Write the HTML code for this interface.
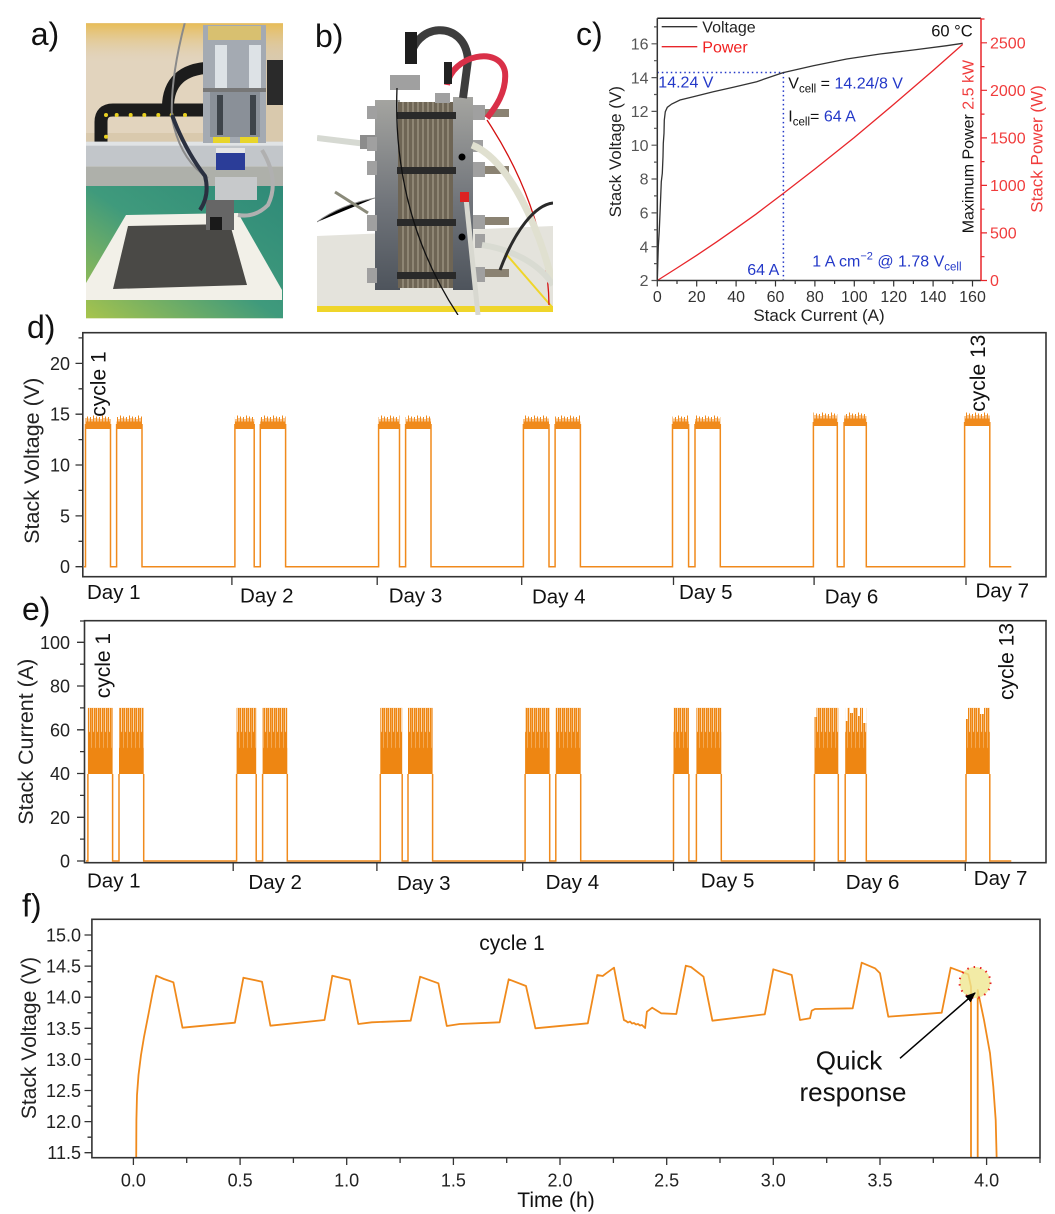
<!DOCTYPE html>
<html><head><meta charset="utf-8"><style>
html,body{margin:0;padding:0;background:#fff;}
svg{display:block;}
</style></head><body>
<svg width="1055" height="1214" viewBox="0 0 1055 1214" xmlns="http://www.w3.org/2000/svg" font-family="'Liberation Sans', Arial, sans-serif">
<defs>
<pattern id="dn" x="0" y="415" width="9" height="14" patternUnits="userSpaceOnUse">
<rect x="0" y="6.5" width="9" height="7.5" fill="#f08a1c"/>
<path d="M0.5,2V14 M2,4V14 M3.5,0.5V14 M5,3V14 M6.5,1.5V14 M8,3.5V14" stroke="#f08a1c" stroke-width="1"/>
</pattern>
<pattern id="dn2" x="0" y="412" width="9" height="14" patternUnits="userSpaceOnUse">
<rect x="0" y="6.5" width="9" height="7.5" fill="#f08a1c"/>
<path d="M0.5,2V14 M2,4V14 M3.5,0.5V14 M5,3V14 M6.5,1.5V14 M8,3.5V14" stroke="#f08a1c" stroke-width="1"/>
</pattern>
<pattern id="en" x="0" y="707.9" width="4" height="66.1" patternUnits="userSpaceOnUse">
<rect width="4" height="66.1" fill="#ee8612"/>
<rect x="1.2" y="0" width="0.8" height="24" fill="#fff" opacity="0.8"/>
<rect x="3.1" y="0" width="0.5" height="40" fill="#fff" opacity="0.55"/>
</pattern>
<linearGradient id="gA" x1="0" y1="1" x2="1" y2="0">
<stop offset="0" stop-color="#a8c44c"/><stop offset="0.5" stop-color="#3f9a7c"/><stop offset="1" stop-color="#2f8a78"/>
</linearGradient>
<linearGradient id="gB" x1="0" y1="0" x2="0" y2="1">
<stop offset="0" stop-color="#a4a4a0"/><stop offset="0.55" stop-color="#70747a"/><stop offset="1" stop-color="#4e545c"/>
</linearGradient>
<linearGradient id="gTop" x1="0" y1="0" x2="0" y2="1">
<stop offset="0" stop-color="#e8bc55"/><stop offset="1" stop-color="#e0cfb2" stop-opacity="0"/>
</linearGradient>
<clipPath id="clipA"><rect x="86" y="23.3" width="197" height="295"/></clipPath>
<clipPath id="clipB"><rect x="317" y="20" width="236" height="295"/></clipPath>
<clipPath id="clipF"><rect x="91.9" y="919.3" width="948.1" height="238.4"/></clipPath>
<marker id="arr" viewBox="0 0 10 10" refX="9" refY="5" markerWidth="7" markerHeight="7" orient="auto">
<path d="M0,1 L10,5 L0,9 z" fill="#000"/>
</marker>
</defs>
<rect width="1055" height="1214" fill="#fff"/>

<!-- ===== Panel labels ===== -->
<g font-size="32" fill="#111">
<text x="30.7" y="45">a)</text>
<text x="315" y="47">b)</text>
<text x="576" y="45">c)</text>
<text x="27" y="338">d)</text>
<text x="22" y="620">e)</text>
<text x="22" y="916.7">f)</text>
</g>

<!-- ===== Photo a ===== -->
<g clip-path="url(#clipA)">
<rect x="86" y="23" width="197" height="296" fill="#d9c9ad"/>
<rect x="86" y="23" width="120" height="110" fill="#e2d4be"/>
<rect x="86" y="23" width="197" height="40" fill="url(#gTop)"/>
<path d="M101,142 V122 Q101,110 113,110 H205" stroke="#1c1c1c" stroke-width="13" fill="none"/>
<path d="M168,112 Q166,72 205,68" stroke="#1c1c1c" stroke-width="12" fill="none"/>
<g fill="#e8d020">
<circle cx="106" cy="115" r="2"/><circle cx="116.7" cy="115" r="2"/><circle cx="130.7" cy="115" r="2"/><circle cx="144.3" cy="115" r="2"/><circle cx="158.3" cy="115" r="2"/><circle cx="171.7" cy="115" r="2"/><circle cx="185" cy="115" r="2"/><circle cx="106" cy="136.7" r="2"/>
</g>
<rect x="86" y="141.7" width="197" height="25" fill="#c2c6ca"/>
<rect x="86" y="141.7" width="197" height="4" fill="#e0e3e5"/>
<rect x="86" y="166.7" width="197" height="20" fill="#aeb0aa"/>
<rect x="86" y="186" width="197" height="133" fill="url(#gA)"/>
<polygon points="126,215 238,213 282,290 282,300 86,300 86,283" fill="#f2f0e8"/>
<polygon points="128,226 230,224 247,285 113,289" fill="#4a4946"/>
<rect x="203" y="25" width="63" height="118" fill="#a4aab2"/>
<rect x="208" y="26" width="53" height="14" fill="#d8c070"/>
<rect x="215" y="45" width="12" height="45" fill="#dde2e6"/>
<rect x="249" y="45" width="12" height="45" fill="#dde2e6"/>
<rect x="203" y="88" width="63" height="4" fill="#777"/>
<rect x="210" y="92" width="50" height="45" fill="#8a9098"/>
<rect x="217" y="95" width="6" height="40" fill="#3e444a"/>
<rect x="250" y="95" width="6" height="40" fill="#3e444a"/>
<rect x="213" y="137" width="17" height="6" fill="#e8d52a"/>
<rect x="240" y="137" width="18" height="6" fill="#e8d52a"/>
<rect x="216" y="148" width="29" height="5" fill="#e6e6e6"/>
<rect x="216" y="153" width="29" height="17" fill="#2b3d98"/>
<rect x="215" y="177" width="42" height="23" fill="#c7c9cb"/>
<rect x="206" y="200" width="28" height="30" fill="#666"/>
<rect x="210" y="217" width="12" height="13" fill="#1a1a1a"/>
<rect x="267" y="60" width="16" height="45" fill="#2a2a2a"/>
<path d="M185,22 Q170,80 172,118 Q180,160 208,178" stroke="#8a8a8a" stroke-width="2" fill="none"/>
<path d="M172,115 Q185,150 205,176 Q210,195 200,210" stroke="#2a3040" stroke-width="4" fill="none"/>
<path d="M262,150 Q280,180 268,205 Q255,218 238,215" stroke="#b0b0b0" stroke-width="4" fill="none"/>
</g>

<!-- ===== Photo b ===== -->
<g clip-path="url(#clipB)">
<polygon points="317,236 553,226 553,306 317,306" fill="#e4e3dc"/>
<rect x="317" y="306" width="236" height="6" fill="#efd52a"/>
<path d="M500,247 L552,307" stroke="#efd52a" stroke-width="2"/>
<path d="M317,138 L375,145" stroke="#d6d9d2" stroke-width="6"/>
<path d="M317,222 Q340,205 375,198" stroke="#888" stroke-width="1"/>
<path d="M335,192 L368,213" stroke="#8a8a7a" stroke-width="3"/>
<rect x="360" y="135" width="16" height="14" fill="#8c8c8c"/>
<rect x="375" y="100" width="25" height="190" fill="url(#gB)"/>
<rect x="398" y="102" width="57" height="186" fill="#6e6555"/>
<path d="M403,102V288 M408,102V288 M413,102V288 M418,102V288 M423,102V288 M428,102V288 M433,102V288 M438,102V288 M443,102V288 M448,102V288" stroke="#a39b88" stroke-width="1.2"/>
<rect x="453" y="97" width="20" height="193" fill="url(#gB)"/>
<g fill="#2a2a2a">
<rect x="397" y="112" width="59" height="7"/><rect x="397" y="167" width="59" height="7"/><rect x="397" y="219" width="59" height="7"/><rect x="397" y="272" width="59" height="7"/>
</g>
<g fill="#a0a0a0">
<rect x="367" y="106" width="10" height="13"/><rect x="367" y="137" width="10" height="14"/><rect x="367" y="161" width="10" height="14"/><rect x="367" y="215" width="10" height="16"/><rect x="367" y="268" width="10" height="15"/>
<rect x="473" y="105" width="12" height="15"/><rect x="473" y="140" width="10" height="12"/><rect x="473" y="162" width="12" height="15"/><rect x="473" y="215" width="12" height="14"/><rect x="475" y="234" width="10" height="14"/><rect x="473" y="267" width="12" height="15"/>
<rect x="390" y="75" width="30" height="15"/><rect x="435" y="93" width="15" height="10"/>
</g>
<g fill="#8a8272">
<rect x="485" y="109" width="24" height="8"/><rect x="485" y="166" width="24" height="8"/><rect x="485" y="217" width="24" height="8"/><rect x="485" y="269" width="24" height="8"/>
</g>
<circle cx="462" cy="157" r="3.5" fill="#000"/>
<circle cx="462" cy="237" r="3.5" fill="#000"/>
<path d="M410,62 C412,22 465,18 468,60 L463,98" stroke="#3d3d3d" stroke-width="8" fill="none"/>
<rect x="405" y="32" width="12" height="32" fill="#1e1e1e"/>
<path d="M447,85 C452,55 500,45 505,72 C507,92 495,108 487,118" stroke="#d93048" stroke-width="6" fill="none"/>
<rect x="444" y="62" width="8" height="22" fill="#222"/>
<path d="M397,88 C393,190 425,265 458,315" stroke="#111" stroke-width="1.3" fill="none"/>
<path d="M487,120 C520,170 548,235 549,305" stroke="#d41010" stroke-width="1.3" fill="none"/>
<path d="M466,198 L478,315" stroke="#d8d8d0" stroke-width="5"/>
<rect x="460" y="192" width="9" height="10" fill="#d22"/>
<path d="M472,145 C510,160 540,230 553,285" stroke="#e0e0d0" stroke-width="7" fill="none"/>
<path d="M482,245 C515,250 540,265 553,285" stroke="#d9dbd2" stroke-width="6" fill="none"/>
<path d="M500,270 C515,230 535,205 553,203" stroke="#2a2a2a" stroke-width="3" fill="none"/>
</g>

<!-- ===== Panel c ===== -->
<g>
<!-- dotted guides -->
<path d="M657.3,72.5 H783.4 V280.5" stroke="#2338c8" stroke-width="1.5" stroke-dasharray="1.5 3" fill="none"/>
<!-- power curve -->
<polyline fill="none" stroke="#e8262b" stroke-width="1.3" points="657.3,280.5 677,268 696.7,255.3 716.4,242.1 736.1,228.3 755.8,214.3 783.4,193.4 814.9,169 854.3,137.5 893.7,104.4 933.1,70.5 962.7,44.4"/>
<!-- voltage curve -->
<polyline fill="none" stroke="#333" stroke-width="1.3" points="657.3,280 657.7,266.7 658.3,246.7 659.3,230 660,213.3 660.7,196.7 661.3,181.7 662.3,173.3 663,156.7 663.3,143.3 664,133.3 664.3,120 665.3,111.7 667.3,107.3 671.7,104 680,100 693.3,96.7 713.3,91.7 733.3,87.3 756.7,81.7 782.7,72.7 813.3,65.7 846.7,59 880,54 913.3,50 946.7,45.7 962.7,43.3"/>
<!-- frame -->
<path d="M657.3,18.3 H981" stroke="#222" stroke-width="1.5"/>
<path d="M657.3,18.3 V280.5 H981" stroke="#333" stroke-width="1.5" fill="none"/>
<path d="M981,18.3 V280.5" stroke="#e8262b" stroke-width="1.5"/>
<!-- left ticks -->
<path d="M651.5,280.5H657.3 M651.5,246.7H657.3 M651.5,212.9H657.3 M651.5,179H657.3 M651.5,145.2H657.3 M651.5,111.4H657.3 M651.5,77.6H657.3 M651.5,43.8H657.3 M654,263.6H657.3 M654,229.8H657.3 M654,195.9H657.3 M654,162.1H657.3 M654,128.3H657.3 M654,94.5H657.3 M654,60.7H657.3 M654,26.9H657.3" stroke="#555" stroke-width="1.2"/>
<!-- bottom ticks -->
<path d="M657.3,280.5V286.5 M696.7,280.5V286.5 M736.1,280.5V286.5 M775.5,280.5V286.5 M814.9,280.5V286.5 M854.3,280.5V286.5 M893.7,280.5V286.5 M933.1,280.5V286.5 M972.5,280.5V286.5 M677,280.5V284 M716.4,280.5V284 M755.8,280.5V284 M795.2,280.5V284 M834.6,280.5V284 M874,280.5V284 M913.4,280.5V284 M952.8,280.5V284" stroke="#333" stroke-width="1.2"/>
<!-- right ticks -->
<path d="M981,280.5H987 M981,232.9H987 M981,185.4H987 M981,137.9H987 M981,90.3H987 M981,42.8H987 M981,256.7H984.5 M981,209.2H984.5 M981,161.6H984.5 M981,114.1H984.5 M981,66.6H984.5 M981,19H984.5" stroke="#e8262b" stroke-width="1.2"/>
<g font-size="16" fill="#555" text-anchor="end">
<text x="648.5" y="286.2">2</text><text x="648.5" y="252.4">4</text><text x="648.5" y="218.6">6</text><text x="648.5" y="184.7">8</text><text x="648.5" y="150.9">10</text><text x="648.5" y="117.1">12</text><text x="648.5" y="83.3">14</text><text x="648.5" y="49.5">16</text>
</g>
<g font-size="16" fill="#333" text-anchor="middle">
<text x="657.3" y="301.8">0</text><text x="696.7" y="301.8">20</text><text x="736.1" y="301.8">40</text><text x="775.5" y="301.8">60</text><text x="814.9" y="301.8">80</text><text x="854.3" y="301.8">100</text><text x="893.7" y="301.8">120</text><text x="933.1" y="301.8">140</text><text x="972.5" y="301.8">160</text>
</g>
<g font-size="16" fill="#f03c3c">
<text x="990" y="286.2">0</text><text x="990" y="238.6">500</text><text x="990" y="191.1">1000</text><text x="990" y="143.6">1500</text><text x="990" y="96">2000</text><text x="990" y="48.5">2500</text>
</g>
<text x="819" y="320.8" font-size="17" fill="#222" text-anchor="middle">Stack Current (A)</text>
<text transform="translate(620.8,151.7) rotate(-90)" font-size="17" fill="#222" text-anchor="middle">Stack Voltage (V)</text>
<text transform="translate(973.4,233.3) rotate(-90)" font-size="16" fill="#111">Maximum Power <tspan fill="#f03c3c">2.5 kW</tspan></text>
<text transform="translate(1042.5,149) rotate(-90)" font-size="17" fill="#f03c3c" text-anchor="middle">Stack Power (W)</text>
<!-- legend -->
<path d="M661.7,26.7 H697.3" stroke="#333" stroke-width="1.3"/>
<text x="702.3" y="32.3" font-size="16" fill="#222">Voltage</text>
<path d="M661.7,46.7 H697.3" stroke="#e8262b" stroke-width="1.3"/>
<text x="702.3" y="52.3" font-size="16" fill="#f02020">Power</text>
<text x="972.7" y="36.7" font-size="16.5" fill="#111" text-anchor="end">60 °C</text>
<text x="658.3" y="87.7" font-size="16" fill="#2338c8">14.24 V</text>
<text x="788.3" y="88.3" font-size="16" fill="#111">V<tspan font-size="11.5" dy="4">cell</tspan><tspan dy="-4"> = </tspan><tspan fill="#2338c8">14.24/8 V</tspan></text>
<text x="788.3" y="121.7" font-size="16" fill="#111">I<tspan font-size="11.5" dy="4">cell</tspan><tspan dy="-4">= </tspan><tspan fill="#2338c8">64 A</tspan></text>
<text x="779.3" y="275" font-size="16" fill="#2338c8" text-anchor="end">64 A</text>
<text x="812.3" y="266.7" font-size="16" fill="#2338c8">1 A cm<tspan font-size="11" dy="-7">−2</tspan><tspan dy="7"> @ 1.78 V</tspan><tspan font-size="11.5" dy="4">cell</tspan></text>
</g>

<!-- ===== Panel d ===== -->
<g>
<g>
<rect x="85.5" y="415" width="25" height="14" fill="url(#dn)"/>
<rect x="116.6" y="415" width="25.4" height="14" fill="url(#dn)"/>
<rect x="234.9" y="415" width="19.3" height="14" fill="url(#dn)"/>
<rect x="260.3" y="415" width="25.3" height="14" fill="url(#dn)"/>
<rect x="378.6" y="415" width="20.9" height="14" fill="url(#dn)"/>
<rect x="405.6" y="415" width="25.4" height="14" fill="url(#dn)"/>
<rect x="523.4" y="415" width="25.6" height="14" fill="url(#dn)"/>
<rect x="555.1" y="415" width="25.3" height="14" fill="url(#dn)"/>
<rect x="672.5" y="415" width="16.1" height="14" fill="url(#dn)"/>
<rect x="695" y="415" width="25.3" height="14" fill="url(#dn)"/>
<rect x="813.4" y="412" width="23.9" height="14" fill="url(#dn2)"/>
<rect x="844.1" y="412" width="22.2" height="14" fill="url(#dn2)"/>
<rect x="964.6" y="412" width="25.2" height="14" fill="url(#dn2)"/>
</g>
<path fill="none" stroke="#f08a1c" stroke-width="1.5" d="M84,566.7 H85.5 V424 M110.5,424 V566.7 H116.6 V424 M142,424 V566.7 H234.9 V424 M254.2,424 V566.7 H260.3 V424 M285.6,424 V566.7 H378.6 V424 M399.5,424 V566.7 H405.6 V424 M431,424 V566.7 H523.4 V424 M549,424 V566.7 H555.1 V424 M580.4,424 V566.7 H672.5 V424 M688.6,424 V566.7 H695 V424 M720.3,424 V566.7 H813.4 V422 M837.3,422 V566.7 H844.1 V422 M866.3,422 V566.7 H964.6 V422 M989.8,422 V566.7 H1011.3"/>
<rect x="82.8" y="332.7" width="963.2" height="244" fill="none" stroke="#333" stroke-width="1.6"/>
<path d="M75.5,566.7H82.8 M75.5,515.9H82.8 M75.5,465H82.8 M75.5,414.2H82.8 M75.5,363.4H82.8 M78.5,541.3H82.8 M78.5,490.4H82.8 M78.5,439.6H82.8 M78.5,388.8H82.8 M78.5,337.9H82.8 M231.9,576.7V585 M377.2,576.7V585 M521.7,576.7V585 M673.5,576.7V585 M814.1,576.7V585 M966,576.7V585" stroke="#333" stroke-width="1.3"/>
<g font-size="18" fill="#222" text-anchor="end">
<text x="70" y="573.2">0</text><text x="70" y="522.4">5</text><text x="70" y="471.5">10</text><text x="70" y="420.7">15</text><text x="70" y="369.9">20</text>
</g>
<text transform="translate(39,460.8) rotate(-90)" font-size="21.5" fill="#222" text-anchor="middle">Stack Voltage (V)</text>
<text transform="translate(105.5,416.7) rotate(-90)" font-size="21" fill="#111">cycle 1</text>
<text transform="translate(985,411.7) rotate(-90)" font-size="21" fill="#111">cycle 13</text>
<g font-size="20.5" fill="#111">
<text x="87" y="599">Day 1</text><text x="240" y="602.3">Day 2</text><text x="388.7" y="602.3">Day 3</text><text x="532" y="603.3">Day 4</text><text x="679" y="599">Day 5</text><text x="824.7" y="603.3">Day 6</text><text x="975.5" y="597.3">Day 7</text>
</g>
</g>

<!-- ===== Panel e ===== -->
<g>
<g>
<rect x="87.9" y="707.9" width="24.7" height="66.1" fill="url(#en)"/>
<rect x="119" y="707.9" width="24.7" height="66.1" fill="url(#en)"/>
<rect x="236.6" y="707.9" width="19.6" height="66.1" fill="url(#en)"/>
<rect x="262.6" y="707.9" width="24.7" height="66.1" fill="url(#en)"/>
<rect x="380.3" y="707.9" width="21.9" height="66.1" fill="url(#en)"/>
<rect x="408" y="707.9" width="24.6" height="66.1" fill="url(#en)"/>
<rect x="525.1" y="707.9" width="24.6" height="66.1" fill="url(#en)"/>
<rect x="555.8" y="707.9" width="24.9" height="66.1" fill="url(#en)"/>
<rect x="673.5" y="707.9" width="15.4" height="66.1" fill="url(#en)"/>
<rect x="696.4" y="707.9" width="24.9" height="66.1" fill="url(#en)"/>
<rect x="814.5" y="707.9" width="23.8" height="66.1" fill="url(#en)"/>
<rect x="845.2" y="707.9" width="21.1" height="66.1" fill="url(#en)"/>
<rect x="966" y="707.9" width="23.8" height="66.1" fill="url(#en)"/>
<rect x="814.5" y="707" width="2" height="10" fill="#fff"/>
<rect x="845.2" y="707" width="2.5" height="14" fill="#fff"/>
<rect x="850" y="707" width="3" height="6" fill="#fff"/>
<rect x="858" y="707" width="2" height="9" fill="#fff"/>
<rect x="863" y="707" width="3.3" height="16" fill="#fff"/>
<rect x="966" y="707" width="2" height="12" fill="#fff"/>
<rect x="980" y="707" width="4" height="7" fill="#fff"/>
</g>
<path fill="none" stroke="#f08a1c" stroke-width="1.5" d="M86,861 H87.9 V774 M112.6,774 V861 H119 V774 M143.7,774 V861 H236.6 V774 M256.2,774 V861 H262.6 V774 M287.3,774 V861 H380.3 V774 M402.2,774 V861 H408 V774 M432.6,774 V861 H525.1 V774 M549.7,774 V861 H555.8 V774 M580.7,774 V861 H673.5 V774 M688.9,774 V861 H696.4 V774 M721.3,774 V861 H814.5 V774 M838.3,774 V861 H845.2 V774 M866.3,774 V861 H966 V774 M989.8,774 V861 H1011.3"/>
<rect x="84.5" y="620.7" width="961.5" height="242" fill="none" stroke="#333" stroke-width="1.6"/>
<path d="M77,861H84.5 M77,817.3H84.5 M77,773.5H84.5 M77,729.8H84.5 M77,686H84.5 M77,642.3H84.5 M80,839.1H84.5 M80,795.4H84.5 M80,751.6H84.5 M80,707.9H84.5 M80,664.2H84.5 M80,621H84.5 M233.2,862.7V871 M376.9,862.7V871 M522.7,862.7V871 M673.5,862.7V871 M814.1,862.7V871 M965.3,862.7V871" stroke="#333" stroke-width="1.3"/>
<g font-size="18" fill="#222" text-anchor="end">
<text x="70" y="867.5">0</text><text x="70" y="823.8">20</text><text x="70" y="780">40</text><text x="70" y="736.3">60</text><text x="70" y="692.5">80</text><text x="70" y="648.8">100</text>
</g>
<text transform="translate(33,741.7) rotate(-90)" font-size="21.5" fill="#222" text-anchor="middle">Stack Current (A)</text>
<text transform="translate(110,698.3) rotate(-90)" font-size="21" fill="#111">cycle 1</text>
<text transform="translate(1013.5,700) rotate(-90)" font-size="21" fill="#111">cycle 13</text>
<g font-size="20.5" fill="#111">
<text x="87" y="887.3">Day 1</text><text x="248.4" y="889">Day 2</text><text x="397" y="890">Day 3</text><text x="545.6" y="889">Day 4</text><text x="700.8" y="887.3">Day 5</text><text x="845.8" y="889">Day 6</text><text x="973.8" y="885">Day 7</text>
</g>
</g>

<!-- ===== Panel f ===== -->
<g>
<g clip-path="url(#clipF)">
<path fill="none" stroke="#f08a1c" stroke-width="1.8" stroke-linejoin="round" d="M136.2,1160 L136.4,1120 L137,1095 L138.5,1075 L141,1055 L144,1037 L148.7,1013 L152.5,993 L156.2,975.7 L163.9,979 L173.4,982.3 L182.5,1027.7 L234.9,1022.7 L243.4,977.7 L262,981.7 L270.4,1025.7 L324.5,1020 L332.3,975.7 L349.8,980 L358.3,1024 L371.8,1022.3 L410.7,1020.7 L420.1,976.7 L438.4,983.3 L446.8,1026 L459.7,1024 L499.6,1022.3 L508.7,979.3 L526,986 L535.4,1028.3 L587.8,1023.3 L597.3,975 L602.7,976 L606.2,973.3 L614,967.7 L623.9,1020 L626,1021 L628,1022.5 L630,1021.5 L632,1023.5 L634,1023 L636,1024.5 L638,1024 L640,1025.5 L642,1025 L644,1027 L645.1,1028 L646.9,1011.7 L652.2,1007.7 L661.1,1013.3 L676.3,1014 L685.8,965.7 L691,967 L703.5,976.7 L712.4,1020.7 L764.8,1014.3 L773.3,969.3 L791.7,975 L800,1020 L810,1018.3 L811.7,1010.7 L815,1009 L852.7,1008.3 L861.7,962.7 L875,968.3 L880,973.3 L888.3,1016.7 L941.7,1012.7 L950.7,967.7 L968.3,974.3 L971,986.7 L971,1160 M977.7,1160 L977.7,990 L984,1020 L990,1053.3 L993.3,1086.7 L995.7,1120 L996.7,1160"/>
</g>
<circle cx="975" cy="982.5" r="15.5" fill="#efe690" fill-opacity="0.8" stroke="#e82020" stroke-width="2" stroke-dasharray="1.5 5"/>
<path d="M900,1058.3 L975,993" stroke="#000" stroke-width="1.5" marker-end="url(#arr)"/>
<rect x="91.9" y="919.3" width="948.1" height="238.4" fill="none" stroke="#333" stroke-width="1.6"/>
<path d="M84.5,935H91.9 M84.5,966.1H91.9 M84.5,997.2H91.9 M84.5,1028.3H91.9 M84.5,1059.4H91.9 M84.5,1090.5H91.9 M84.5,1121.6H91.9 M84.5,1152.7H91.9 M87.5,950.6H91.9 M87.5,981.7H91.9 M87.5,1012.8H91.9 M87.5,1043.9H91.9 M87.5,1075H91.9 M87.5,1106.1H91.9 M87.5,1137.2H91.9 M133.4,1157.7V1165 M240.1,1157.7V1165 M346.7,1157.7V1165 M453.4,1157.7V1165 M560,1157.7V1165 M666.7,1157.7V1165 M773.3,1157.7V1165 M880,1157.7V1165 M986.6,1157.7V1165 M186.7,1157.7V1163 M293.4,1157.7V1163 M400.1,1157.7V1163 M506.7,1157.7V1163 M613.4,1157.7V1163 M720,1157.7V1163 M826.7,1157.7V1163 M933.3,1157.7V1163 M1040,1157.7V1163" stroke="#333" stroke-width="1.3"/>
<g font-size="18" fill="#222" text-anchor="end">
<text x="81" y="941.5">15.0</text><text x="81" y="972.6">14.5</text><text x="81" y="1003.7">14.0</text><text x="81" y="1034.8">13.5</text><text x="81" y="1065.9">13.0</text><text x="81" y="1097">12.5</text><text x="81" y="1128.1">12.0</text><text x="81" y="1159.2">11.5</text>
</g>
<g font-size="18" fill="#222" text-anchor="middle">
<text x="133.4" y="1186.5">0.0</text><text x="240.1" y="1186.5">0.5</text><text x="346.7" y="1186.5">1.0</text><text x="453.4" y="1186.5">1.5</text><text x="560" y="1186.5">2.0</text><text x="666.7" y="1186.5">2.5</text><text x="773.3" y="1186.5">3.0</text><text x="880" y="1186.5">3.5</text><text x="986.6" y="1186.5">4.0</text>
</g>
<text x="556" y="1207" font-size="21" fill="#111" text-anchor="middle">Time (h)</text>
<text transform="translate(36,1038) rotate(-90)" font-size="21" fill="#222" text-anchor="middle">Stack Voltage (V)</text>
<text x="479.3" y="950" font-size="21" fill="#111">cycle 1</text>
<text x="849" y="1069.5" font-size="26" fill="#111" text-anchor="middle">Quick</text>
<text x="853" y="1101" font-size="26" fill="#111" text-anchor="middle">response</text>
</g>
</svg>
</body></html>
